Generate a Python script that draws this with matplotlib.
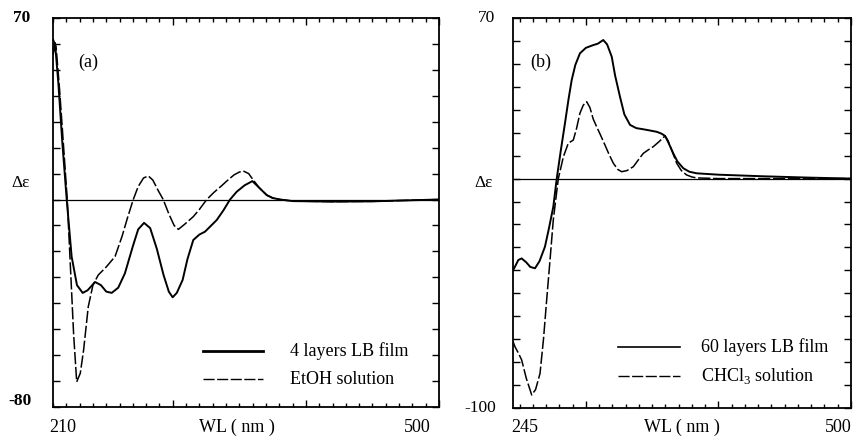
import numpy as np
from matplotlib import pyplot as plt
from matplotlib.ticker import MultipleLocator

plt.rcParams['font.family'] = ['Liberation Serif', 'DejaVu Serif']
plt.rcParams['mathtext.fontset'] = 'custom'
plt.rcParams['mathtext.rm'] = 'Liberation Serif'

# panel (a): 4 layers LB film (solid) and EtOH solution (dashed)
wl_a_film = [210, 211.5, 214, 217, 220.3, 224, 228, 232.3, 236, 241.6, 246, 250, 254.1,
             259, 264, 270, 274, 278.4, 283, 288, 293, 297, 299.9, 303, 307.4, 311,
             315.4, 320, 324.2, 333, 338, 343, 348, 354, 359.8, 365, 370.6, 375, 380.6,
             390, 420, 450, 470, 500]
de_a_film = [56, 60.4, 45, 22, 0, -22, -33, -36, -35, -31.8, -33, -35.5, -36,
             -34, -28.5, -18, -11.5, -9, -11, -19, -29, -35.5, -37.7, -36, -31, -23,
             -15.6, -13.5, -12.4, -7.9, -4.2, 0, 3, 5.5, 7.1, 4.5, 1.7, 0.6, 0,
             -0.6, -0.8, -0.7, -0.4, 0]
wl_a_sol = [210, 212.3, 215, 218, 220.7, 223, 225.5, 227.8, 230.5, 233, 236.5, 240, 244,
            250, 256.6, 262, 266, 270.3, 274, 278, 281.6, 285, 289, 292.8, 297, 301,
            304.2, 309, 315.4, 320, 325.5, 331, 336, 340.5, 346, 350, 353, 357, 360.5,
            365, 370.6, 375, 380.6, 390, 420, 450, 470, 500]
de_a_sol = [62, 58.9, 42, 20, 0, -25, -52, -70.3, -67, -58, -41.3, -33, -29.1,
            -26, -22, -14, -7, 0, 5, 8.3, 9.1, 7.5, 3.5, 0, -5.5, -10,
            -11.5, -9.5, -6.6, -3.8, 0, 2.8, 5, 7.1, 9.5, 10.6, 11, 10, 7.5,
            4.5, 1.7, 0.6, 0, -0.6, -0.8, -0.7, -0.4, 0]

# panel (b): 60 layers LB film (solid) and CHCl3 solution (dashed)
wl_b_film = [245, 246.5, 249, 251.5, 255, 258, 261.6, 265, 269.1, 272, 275.4, 278,
             281, 284.2, 287, 289.3, 292, 295.5, 300, 305.6, 309, 313.1, 316, 319.5,
             322, 325.7, 329, 333.3, 338, 343.3, 348, 353.4, 357, 359.7, 362, 365.9,
             369, 373.5, 378, 383.6, 400, 433.8, 470, 500]
de_b_film = [-40, -38.4, -35.5, -34.8, -36.5, -38.5, -39.1, -36, -29.7, -22, -12.3, 0,
             12, 24.1, 35, 43, 49.5, 54.6, 57, 58.2, 58.8, 60.4, 58.5, 53.1,
             45, 35.7, 28, 23.4, 22, 21.5, 21, 20.4, 19.6, 18.6, 16, 11,
             7.5, 4.5, 3, 2.3, 1.7, 1, 0.4, 0]
wl_b_sol = [245, 246.5, 249, 251.5, 255, 259.1, 262, 265.4, 268, 270.4, 273, 275.4,
            279.2, 283, 286.7, 290.5, 293, 295.5, 298, 300.6, 303, 305.5, 308.1, 311,
            314.4, 317.5, 320.7, 324, 327, 331, 335.8, 340, 343.3, 347, 350.8, 355,
            359.7, 362, 365, 368.5, 372, 375.9, 380, 383.6, 400, 450, 500]
de_b_sol = [-71, -73.3, -76, -79, -87, -94.3, -92, -84.9, -70, -52.9, -35, -18,
            0, 9.5, 15.4, 16.8, 22, 28.5, 32, 33.5, 31, 26, 22.6, 19,
            14.6, 10.5, 6.7, 4, 3, 3.5, 5.2, 8.5, 11, 12.5, 13.9, 16,
            18.6, 16.5, 12, 6.7, 3.5, 1.6, 0.7, 0.3, 0, 0, 0]

W, H = 854, 441
fig = plt.figure(figsize=(W / 100, H / 100), dpi=100)


def px(x, y):
    return x / W, 1 - y / H


def panel(rect, ylim, xlim, film, sol, tag, tagx):
    ax = fig.add_axes(rect)
    ax.plot(film[0], film[1], color='black', lw=1.4)
    ax.plot(sol[0], sol[1], color='black', lw=1.1, dashes=(8, 1.8))
    ax.axhline(0, color='black', lw=0.9)
    ax.set_xlim(*xlim)
    ax.set_ylim(*ylim)
    ax.xaxis.set_major_locator(MultipleLocator(100))
    ax.xaxis.set_minor_locator(MultipleLocator(10))
    ax.yaxis.set_major_locator(MultipleLocator(10))
    ax.tick_params(which='both', direction='in', top=True, right=True,
                   labelbottom=False, labelleft=False, width=1)
    ax.tick_params(which='major', length=5)
    ax.tick_params(which='minor', length=3)
    for s in ax.spines.values():
        s.set_linewidth(1.3)
    ax.text(tagx, 0.875, tag, transform=ax.transAxes, fontsize=13)
    return ax


ax1 = panel([53 / W, 34 / H, 386 / W, 389 / H], (-80, 70), (210, 500),
            (wl_a_film, de_a_film), (wl_a_sol, de_a_sol), '(a)', 0.065)
ax2 = panel([513 / W, 33 / H, 338 / W, 390 / H], (-100, 70), (245, 500),
            (wl_b_film, de_b_film), (wl_b_sol, de_b_sol), '(b)', 0.05)

# legends drawn by hand so the layout matches the scan
def legend(x0, x1, y0, y1, tx, t0, t1, thick):
    fig.add_artist(plt.Line2D([x0 / W, x1 / W], [1 - y0 / H] * 2, color='black', lw=thick))
    fig.add_artist(plt.Line2D([x0 / W, x1 / W], [1 - y1 / H] * 2, color='black', lw=1.0,
                              dashes=(8, 1.8)))
    fig.text(*px(tx, y0), t0, fontsize=13, va='center')
    fig.text(*px(tx, y1), t1, fontsize=13, va='center')

legend(203, 263, 351, 379, 290, '4 layers LB film', 'EtOH solution', 2.0)
legend(618, 680, 347, 376, 701, '60 layers LB film', 'CHCl$_3$ solution', 1.2)

for x, y, s, w in [(22, 18, '70', 'bold'), (20, 401, '-80', 'bold'), (21, 183, 'Δε', 'normal'),
                   (487, 18, '70', 'normal'), (484, 183, 'Δε', 'normal'),
                   (480, 408, '-100', 'normal')]:
    fig.text(*px(x, y), s, fontsize=12.5, ha='center', va='center', fontweight=w)

for x, s in [(63, '210'), (417, '500'), (237, 'WL ( nm )'),
             (525, '245'), (838, '500'), (682, 'WL ( nm )')]:
    fig.text(*px(x, 427), s, fontsize=13, ha='center', va='center')

fig.savefig('out.png', dpi=100)
